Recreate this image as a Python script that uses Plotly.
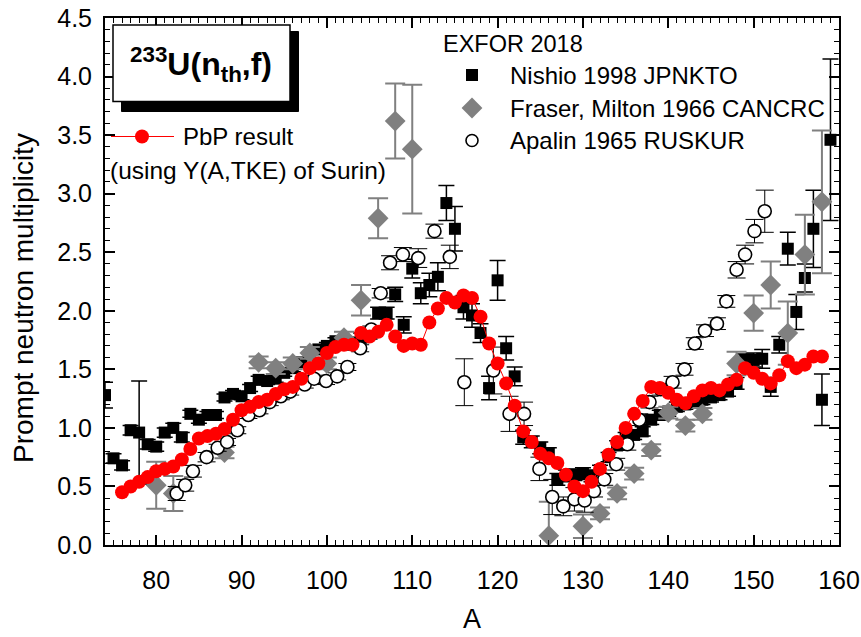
import plotly.graph_objects as go

# ---------------- data ----------------
# PbP result (red)
A_pbp = list(range(76, 159))
nu_pbp = [0.45, 0.50, 0.54, 0.58, 0.63, 0.65, 0.67, 0.73, 0.82, 0.91, 0.93, 0.95, 0.99, 1.07, 1.15,
          1.18, 1.22, 1.24, 1.29, 1.33, 1.35,
          1.42, 1.51, 1.55, 1.64, 1.69, 1.71, 1.71, 1.81, 1.78, 1.82, 1.88, 1.78, 1.70, 1.72, 1.71,
          1.90, 2.02, 2.11, 2.07, 2.13, 2.11, 1.95,
          1.72, 1.55, 1.38, 1.19, 0.97, 0.88, 0.78, 0.74, 0.70, 0.60, 0.50, 0.46, 0.54, 0.65, 0.77,
          0.88, 1.00, 1.12, 1.23, 1.35,
          1.34, 1.30, 1.24, 1.21, 1.27, 1.32, 1.34, 1.32, 1.37, 1.41, 1.51, 1.47, 1.42, 1.38, 1.45,
          1.57, 1.51, 1.54, 1.61, 1.61]

# Nishio 1998 JPNKTO
A_nishio = list(range(74, 160))
nu_nishio = [1.28, 0.74, 0.68, 0.98, 0.96, 0.86, 0.84, 0.96, 1.00, 0.92,
             1.12, 1.07, 1.11, 1.11, 1.26, 1.29, 1.27, 1.34, 1.41, 1.40,
             1.42, 1.47, 1.51, 1.56, 1.62, 1.67, 1.70, 1.74, 1.71, 1.73,
             1.77, 1.80, 1.98, 1.98, 2.14, 1.88, 2.36, 2.15, 2.22, 2.29,
             2.92, 2.70, 2.03, 1.96, 1.81, 1.34, 2.26, 1.68, 1.44, 0.92,
             0.88, 0.83, 0.78, 0.56, 0.59, 0.60, 0.61, 0.59, 0.64, 0.75,
             0.85, 0.92, 0.94, 0.97, 1.07, 1.11, 1.14, 1.18, 1.20, 1.22,
             1.24, 1.26, 1.28, 1.31, 1.38, 1.58, 1.58, 1.59, 1.35, 1.71,
             2.53, 1.99, 2.28, 2.70, 1.24, 3.46]
err_nishio = [0.11, 0.04, 0.04, 0.04, 0.44, 0.04, 0.04, 0.04, 0.04, 0.04,
              0.03, 0.03, 0.03, 0.03, 0.03, 0.03, 0.03, 0.03, 0.03, 0.03,
              0.03, 0.03, 0.03, 0.03, 0.03, 0.03, 0.03, 0.03, 0.03, 0.04,
              0.04, 0.04, 0.05, 0.05, 0.06, 0.07, 0.08, 0.09, 0.10, 0.12,
              0.15, 0.19, 0.10, 0.10, 0.08, 0.10, 0.17, 0.10, 0.08, 0.06,
              0.05, 0.05, 0.05, 0.05, 0.05, 0.05, 0.05, 0.05, 0.04, 0.04,
              0.04, 0.04, 0.04, 0.04, 0.04, 0.04, 0.04, 0.04, 0.04, 0.04,
              0.04, 0.04, 0.04, 0.04, 0.05, 0.05, 0.06, 0.08, 0.08, 0.07,
              0.14, 0.15, 0.12, 0.33, 0.22, 0.69]

# Fraser, Milton 1966 CANCRC
A_fraser = [80, 82, 88, 92, 94, 96, 98, 100, 102, 104, 106, 108, 110,
            126, 130, 132, 134, 136, 138, 140, 142, 144, 148, 150, 152, 154, 156, 158]
nu_fraser = [0.51, 0.44, 0.79, 1.56, 1.51, 1.55, 1.64, 1.55, 1.77, 2.09, 2.79, 3.62, 3.38,
             0.08, 0.16, 0.27, 0.44, 0.61, 0.81, 1.13, 1.02, 1.12, 1.55, 1.98, 2.22, 1.81, 2.48, 2.93]
err_fraser = [0.20, 0.15, 0.05, 0.05, 0.05, 0.05, 0.05, 0.05, 0.05, 0.13, 0.17, 0.32, 0.55,
              0.29, 0.10, 0.05, 0.05, 0.05, 0.05, 0.05, 0.05, 0.05, 0.10, 0.15, 0.20, 0.27, 0.34, 0.61]

# Apalin 1965 RUSKUR
A_apalin = [82.4, 83.4, 84.3, 85.9, 87.2, 88.3, 89.5, 90.8, 92.1, 93.3, 94.6, 95.7, 97.4, 98.5,
            99.9, 101.2, 102.4, 103.9, 105.2, 106.3, 107.4, 108.9, 110.7, 112.6, 114.4, 116.1,
            119.5, 121.4, 123.1, 124.9, 126.4, 127.7, 129.0, 130.2, 131.3, 132.5, 133.9, 135.2,
            136.6, 137.8, 139.1, 140.5, 141.9, 143.1, 144.3, 145.7, 146.8, 148.0, 149.0, 150.1, 151.3]
nu_apalin = [0.44, 0.51, 0.63, 0.75, 0.83, 0.88, 0.98, 1.11, 1.15, 1.22, 1.27, 1.31, 1.37, 1.42,
             1.40, 1.44, 1.52, 1.68, 1.84, 2.15, 2.41, 2.48, 2.45, 2.68, 2.46, 1.39,
             1.49, 1.12, 1.12, 0.65, 0.41, 0.33, 0.39, 0.38, 0.46, 0.56, 0.69, 0.86,
             1.07, 1.22, 1.33, 1.39, 1.50, 1.72, 1.83, 1.89, 2.08, 2.35, 2.48, 2.68, 2.85]
err_apalin = [0.06, 0.05, 0.05, 0.04, 0.03, 0.03, 0.03, 0.03, 0.03, 0.03, 0.03, 0.03, 0.03, 0.03,
              0.03, 0.03, 0.03, 0.03, 0.03, 0.04, 0.06, 0.06, 0.08, 0.06, 0.10, 0.20,
              0.20, 0.15, 0.10, 0.10, 0.15, 0.08, 0.10, 0.10, 0.05, 0.05, 0.05, 0.05,
              0.05, 0.05, 0.05, 0.05, 0.05, 0.05, 0.05, 0.05, 0.05, 0.07, 0.08, 0.10, 0.18]

x_ticks = [80, 90, 100, 110, 120, 130, 140, 150, 160]
y_ticks = [0.0, 0.5, 1.0, 1.5, 2.0, 2.5, 3.0, 3.5, 4.0, 4.5]

legend_labels = ["Nishio 1998 JPNKTO", "Fraser, Milton 1966 CANCRC", "Apalin 1965 RUSKUR"]

FONT = "Liberation Sans, Arial, sans-serif"
TICKFONT = "Liberation Sans Narrow, Arial Narrow, Liberation Sans, Arial, sans-serif"
GRAY = "#808080"

fig = go.Figure()

fig.add_trace(go.Scatter(
    x=A_nishio, y=nu_nishio, mode="markers",
    marker=dict(symbol="square", size=12, color="black"),
    error_y=dict(type="data", array=err_nishio, color="black", thickness=1.5, width=8),
    showlegend=False))

fig.add_trace(go.Scatter(
    x=A_fraser, y=nu_fraser, mode="markers",
    marker=dict(symbol="diamond", size=16, color=GRAY),
    error_y=dict(type="data", array=err_fraser, color=GRAY, thickness=2, width=10),
    showlegend=False))

fig.add_trace(go.Scatter(
    x=A_apalin, y=nu_apalin, mode="markers",
    marker=dict(symbol="circle", size=13, color="white", line=dict(color="black", width=1.6)),
    error_y=dict(type="data", array=err_apalin, color="black", thickness=1, width=9),
    showlegend=False))

fig.add_trace(go.Scatter(
    x=A_pbp, y=nu_pbp, mode="lines+markers",
    line=dict(color="red", width=1),
    marker=dict(symbol="circle", size=14, color="red"),
    showlegend=False))

# ---- legend symbols on an overlay axis (0..1 coordinates over the plot area) ----
def px2fx(px):
    return (px - 105) / 734.0

def py2fy(py):
    return (545 - py) / 527.0

fig.add_trace(go.Scatter(
    x=[px2fx(111), px2fx(174)], y=[py2fy(136.5)] * 2, mode="lines",
    line=dict(color="red", width=1), xaxis="x2", yaxis="y2", showlegend=False))
fig.add_trace(go.Scatter(
    x=[px2fx(142)], y=[py2fy(136.5)], mode="markers",
    marker=dict(symbol="circle", size=14, color="red"),
    xaxis="x2", yaxis="y2", showlegend=False))
fig.add_trace(go.Scatter(
    x=[px2fx(472)], y=[py2fy(75)], mode="markers",
    marker=dict(symbol="square", size=12, color="black"),
    xaxis="x2", yaxis="y2", showlegend=False))
fig.add_trace(go.Scatter(
    x=[px2fx(472)], y=[py2fy(108)], mode="markers",
    marker=dict(symbol="diamond", size=16, color=GRAY),
    xaxis="x2", yaxis="y2", showlegend=False))
fig.add_trace(go.Scatter(
    x=[px2fx(472)], y=[py2fy(140.5)], mode="markers",
    marker=dict(symbol="circle", size=12, color="white", line=dict(color="black", width=1.6)),
    xaxis="x2", yaxis="y2", showlegend=False))

# title box with shadow
fig.add_shape(type="rect", xref="paper", yref="paper",
              x0=px2fx(121.5), x1=px2fx(298.5), y0=py2fy(111.5), y1=py2fy(31.5),
              fillcolor="black", line=dict(color="black", width=1), layer="above")
fig.add_shape(type="rect", xref="paper", yref="paper",
              x0=px2fx(113), x1=px2fx(290), y0=py2fy(101.5), y1=py2fy(25),
              fillcolor="white", line=dict(color="black", width=1.5), layer="above")

annos = [
    dict(x=px2fx(201), y=py2fy(64), text="<b><sup>233</sup>U(n<sub>th</sub>,f)</b>",
         font=dict(size=32, family=FONT, color="black"), xanchor="center", yanchor="middle"),
    dict(x=px2fx(181), y=py2fy(136.5), text="PbP result",
         font=dict(size=24, family=FONT, color="black"), xanchor="left", yanchor="middle"),
    dict(x=px2fx(108), y=py2fy(171), text="(using Y(A,TKE) of Surin)",
         font=dict(size=24.5, family=FONT, color="black"), xanchor="left", yanchor="middle"),
    dict(x=px2fx(441), y=py2fy(44), text="EXFOR 2018",
         font=dict(size=23.5, family=FONT, color="black"), xanchor="left", yanchor="middle"),
    dict(x=px2fx(23), y=py2fy(298), text="Prompt neutron multiplicity", textangle=-90,
         font=dict(size=28, family=FONT, color="black"), xanchor="center", yanchor="middle"),
]
for lab, yy in zip(legend_labels, [75, 108, 140.5]):
    annos.append(dict(x=px2fx(508), y=py2fy(yy), text=lab,
                      font=dict(size=24, family=FONT, color="black"),
                      xanchor="left", yanchor="middle"))
for a in annos:
    a.update(xref="paper", yref="paper", showarrow=False)

fig.update_layout(
    width=861, height=637,
    margin=dict(l=105, r=22, t=18, b=92),
    paper_bgcolor="white", plot_bgcolor="white",
    annotations=annos,
    xaxis=dict(range=[74, 160], tickvals=x_ticks, ticktext=[str(v) for v in x_ticks],
               automargin=False,
               ticks="inside", ticklen=10, tickwidth=1.5, tickcolor="black",
               minor=dict(dtick=1, tick0=0, ticks="inside", ticklen=5, tickwidth=1, tickcolor="black"),
               showline=True, linecolor="black", linewidth=2, mirror="ticks",
               showgrid=False, zeroline=False,
               tickfont=dict(size=25, family=TICKFONT, color="black"),
               ticklabelstandoff=12,
               title=dict(text="A", font=dict(size=27, family=FONT, color="black"), standoff=16)),
    yaxis=dict(range=[0, 4.5], tickvals=y_ticks, ticktext=["%.1f" % v for v in y_ticks],
               automargin=False,
               ticks="inside", ticklen=10, tickwidth=1.5, tickcolor="black",
               minor=dict(dtick=0.1, tick0=0, ticks="inside", ticklen=5, tickwidth=1, tickcolor="black"),
               showline=True, linecolor="black", linewidth=2, mirror="ticks",
               showgrid=False, zeroline=False,
               tickfont=dict(size=25, family=TICKFONT, color="black"),
               ticklabelstandoff=6),
    xaxis2=dict(range=[0, 1], overlaying="x", visible=False, fixedrange=True),
    yaxis2=dict(range=[0, 1], overlaying="y", visible=False, fixedrange=True),
)

fig.write_html("out.html")
